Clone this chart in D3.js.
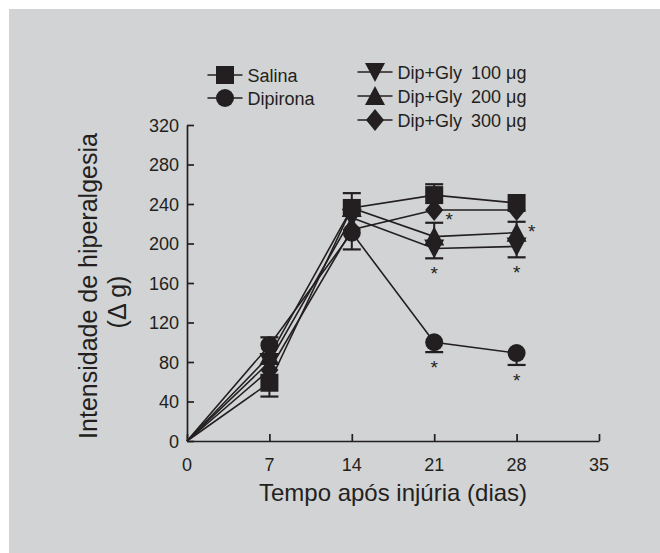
<!DOCTYPE html>
<html>
<head>
<meta charset="utf-8">
<script src="https://cdn.jsdelivr.net/npm/d3@7"></script>
<style>
  body { margin: 0; background: #ffffff; }
  text { font-family: "Liberation Sans", Arial, sans-serif; fill: #231f20; }
</style>
</head>
<body>
<div id="chart"></div>
<script>
// ===========================================
// Data
var days = [0, 7, 14, 21, 28];
var xTicks = [0, 7, 14, 21, 28, 35];
var yTicks = [0, 40, 80, 120, 160, 200, 240, 280, 320];

var seriesNames = ["Salina", "Dipirona", "Dip+Gly", "Dip+Gly", "Dip+Gly"];
var seriesDoses = ["", "", "100 \u03bcg", "200 \u03bcg", "300 \u03bcg"];
var seriesShapes = ["square", "circle", "triDown", "triUp", "diamond"];

var salina = [0, 59, 236, 249, 241];
var dipirona = [0, 97, 211, 100, 89];
var dipGly100 = [0, 80, 226, 195, 197];
var dipGly200 = [0, 86, 236, 207, 211];
var dipGly300 = [0, 72, 214, 234, 234];

// error bars: [day, size, direction]
var salinaErr = [[7, 14, -1], [14, 15, 1], [21, 11, 1]];
var dipironaErr = [[7, 8, 1], [14, 17, -1], [21, 10, -1], [28, 12, -1]];
var dipGly100Err = [[21, 10, -1], [28, 11, -1]];
var dipGly200Err = [[21, 14, 1], [28, 11, 1]];
var dipGly300Err = [];

// significance marks: [series index, day, placement]
var stars = [[1, 21, "below"], [1, 28, "below"], [2, 21, "below"], [2, 28, "below"],
             [4, 21, "right"], [3, 28, "right"]];

var allValues = [salina, dipirona, dipGly100, dipGly200, dipGly300];
var allErrs = [salinaErr, dipironaErr, dipGly100Err, dipGly200Err, dipGly300Err];

// ===========================================
// SVG set up
var svgWidth = 660;
var svgHeight = 553;
var ink = "#231f20";

var svg = d3.select("#chart")
    .append("svg")
    .attr("width", svgWidth)
    .attr("height", svgHeight);

svg.append("rect")
    .attr("x", 9).attr("y", 9)
    .attr("width", svgWidth - 9).attr("height", svgHeight - 9)
    .attr("fill", "#d1d3d4");

var xscale = d3.scaleLinear().domain([0, 35]).range([187, 599]);
var yscale = d3.scaleLinear().domain([0, 320]).range([441, 125]);

// axes, ticks pointing inward
var xAxis = svg.append("g")
    .attr("transform", "translate(0,441)")
    .call(d3.axisTop(xscale).tickValues(xTicks).tickSize(7).tickSizeOuter(0).tickFormat(""));
var yAxis = svg.append("g")
    .attr("transform", "translate(187,0)")
    .call(d3.axisRight(yscale).tickValues(yTicks).tickSize(7).tickSizeOuter(0).tickFormat(""));

[xAxis, yAxis].forEach(function(a) {
    a.selectAll("path, line").attr("stroke", ink).attr("stroke-width", 1.7);
});

svg.selectAll(".xlab")
    .data(xTicks)
    .enter()
    .append("text")
    .attr("x", d => xscale(d))
    .attr("y", 471)
    .attr("text-anchor", "middle")
    .attr("font-size", "18px")
    .text(d => d);

svg.selectAll(".ylab")
    .data(yTicks)
    .enter()
    .append("text")
    .attr("x", 179)
    .attr("y", d => yscale(d) + 6.5)
    .attr("text-anchor", "end")
    .attr("font-size", "18px")
    .text(d => d);

svg.append("text")
    .attr("x", 393)
    .attr("y", 501)
    .attr("text-anchor", "middle")
    .attr("font-size", "24px")
    .text("Tempo após injúria (dias)");

svg.append("text")
    .attr("transform", "translate(97,286) rotate(-90)")
    .attr("text-anchor", "middle")
    .attr("font-size", "25px")
    .text("Intensidade de hiperalgesia");

svg.append("text")
    .attr("transform", "translate(126,302) rotate(-90)")
    .attr("text-anchor", "middle")
    .attr("font-size", "25px")
    .text("(\u0394 g)");

// ===========================================
// marker shapes
function shapePath(shape) {
    var s = 9;
    if (shape === "square") return `M${-s},${-s}H${s}V${s}H${-s}Z`;
    if (shape === "triUp") return `M0,${-s - 1}L${s + 1},${s}L${-s - 1},${s}Z`;
    if (shape === "triDown") return `M0,${s + 1}L${s + 1},${-s}L${-s - 1},${-s}Z`;
    if (shape === "diamond") return `M0,${-s - 2}L${s},0L0,${s + 2}L${-s},0Z`;
    return d3.arc()({innerRadius: 0, outerRadius: s, startAngle: 0, endAngle: 2 * Math.PI});
}

var line = d3.line().x((d, i) => xscale(days[i])).y(d => yscale(d));

// lines first
allValues.forEach(function(vals) {
    svg.append("path")
        .datum(vals)
        .attr("d", line)
        .attr("fill", "none")
        .attr("stroke", ink)
        .attr("stroke-width", 1.6);
});

// error bars
allErrs.forEach(function(errs, si) {
    var g = svg.append("g");
    errs.forEach(function(e) {
        var v = allValues[si][days.indexOf(e[0])];
        var x = xscale(e[0]);
        var yEnd = yscale(v + e[1] * e[2]);
        g.append("line")
            .attr("x1", x).attr("x2", x)
            .attr("y1", yscale(v)).attr("y2", yEnd)
            .attr("stroke", ink).attr("stroke-width", 2);
        g.append("line")
            .attr("x1", x - 9).attr("x2", x + 9)
            .attr("y1", yEnd).attr("y2", yEnd)
            .attr("stroke", ink).attr("stroke-width", 2.2);
    });
});

// markers (skip the origin point)
var drawOrder = [4, 3, 2, 0, 1];
drawOrder.forEach(function(si) {
    svg.selectAll(null)
        .data(allValues[si].slice(1))
        .enter()
        .append("path")
        .attr("transform", (d, i) => `translate(${xscale(days[i + 1])},${yscale(d)})`)
        .attr("d", shapePath(seriesShapes[si]))
        .attr("fill", ink);
});

// significance stars
stars.forEach(function(s) {
    var v = allValues[s[0]][days.indexOf(s[1])];
    var errs = allErrs[s[0]].filter(e => e[0] === s[1]);
    var x = xscale(s[1]);
    var y;
    if (s[2] === "below") {
        var lo = errs.length ? v - errs[0][1] : v - 9;
        y = yscale(lo) + 22;
    } else {
        x = x + 15;
        y = yscale(v) + 16;
        if (errs.length) y = yscale(v + errs[0][1]) + 16;
    }
    svg.append("text")
        .attr("x", x)
        .attr("y", y)
        .attr("text-anchor", "middle")
        .attr("font-size", "19px")
        .text("*");
});

// ===========================================
// legend
var legendPos = [[225, 75], [225, 98], [375, 72], [375, 96], [375, 120]];
legendPos.forEach(function(p, si) {
    var half = 17.5;
    var g = svg.append("g").attr("transform", `translate(${p[0]},${p[1]})`);
    g.append("line")
        .attr("x1", -half).attr("x2", half)
        .attr("y1", 0).attr("y2", 0)
        .attr("stroke", ink).attr("stroke-width", 1.6);
    g.append("path")
        .attr("d", shapePath(seriesShapes[si]))
        .attr("fill", ink);
    var t = g.append("text")
        .attr("x", half + 5)
        .attr("y", 6.5)
        .attr("font-size", "18px")
        .text(seriesNames[si]);
    if (seriesDoses[si]) {
        t.append("tspan").attr("dx", 9).text(seriesDoses[si]);
    }
});
</script>
</body>
</html>
